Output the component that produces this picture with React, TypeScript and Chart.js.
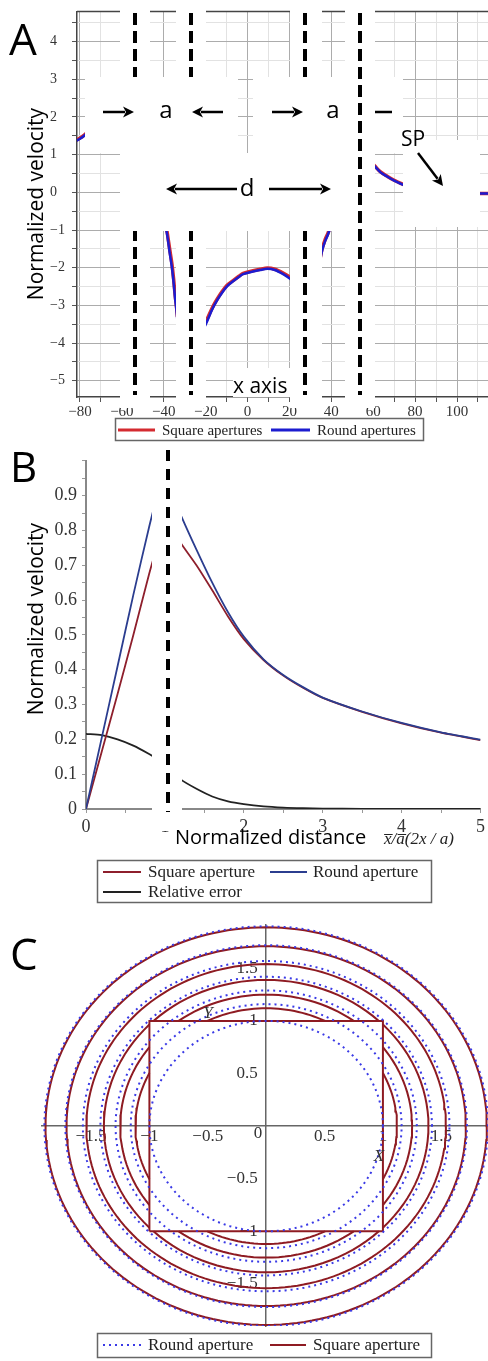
import React, { useEffect, useRef } from "react";
import { Chart, registerables } from "chart.js";
Chart.register(...registerables);

const SANS = '"Open Sans", "Liberation Sans", sans-serif';
const SERIF = '"Liberation Serif", "DejaVu Serif", serif';

// ---------------- Panel A data ----------------
const aPosition = [-82, -80, -78, -76, -60, -45, -43, -41, -39.5, -38.4, -37.2, -36.1, -35.3, -34.6, -34, -33.5, -27, -21, -19.6, -17, -14.7, -12, -9.9, -6.9, -4, -2.1, 2.6, 6, 9.5, 13, 17, 20.3, 21.5, 28, 34.5, 35.6, 37, 38.4, 40, 42, 50, 58, 60.9, 63.5, 66.6, 70, 74.3, 77, 90, 108, 111, 114, 116];
const aSquareVelocity = [1.38, 1.44, 1.52, 1.62, null, 1.0, 0.45, -0.2, -0.7, -1.05, -1.5, -1.9, -2.3, -2.72, -3.0, -3.3, null, -3.55, -3.4, -3.08, -2.85, -2.62, -2.47, -2.34, -2.22, -2.15, -2.08, -2.04, -2.01, -2.04, -2.14, -2.25, -2.31, null, -1.8, -1.5, -1.26, -1.08, -0.82, -0.38, null, 0.86, 0.69, 0.54, 0.43, 0.32, 0.21, 0.15, null, -0.03, -0.03, -0.03, -0.03];
const aRoundVelocity = [1.36, 1.42, 1.5, 1.6, null, 1.0, 0.4, -0.3, -0.8, -1.12, -1.6, -2.0, -2.4, -2.82, -3.1, -3.4, null, -3.62, -3.46, -3.12, -2.88, -2.65, -2.5, -2.36, -2.24, -2.17, -2.1, -2.06, -2.03, -2.06, -2.17, -2.29, -2.35, null, -1.85, -1.55, -1.3, -1.12, -0.85, -0.4, null, 0.85, 0.68, 0.53, 0.42, 0.31, 0.2, 0.14, null, -0.03, -0.03, -0.03, -0.03];
const aLegend = ["Square apertures", "Round apertures"];

// ---------------- Panel B data ----------------
const bDistance = [0, 0.2, 0.4, 0.6, 0.8, 0.9, 1.0, 1.1, 1.2, 1.4, 1.6, 1.8, 2.0, 2.25, 2.5, 2.75, 3.0, 3.5, 4.0, 4.5, 5.0];
const bRound = [0, 0.205, 0.41, 0.615, 0.81, 0.9, null, 0.9, 0.845, 0.745, 0.65, 0.565, 0.495, 0.43, 0.385, 0.35, 0.32, 0.28, 0.247, 0.22, 0.199];
const bSquare = [0, 0.165, 0.33, 0.5, 0.675, 0.755, null, 0.8, 0.764, 0.7, 0.628, 0.553, 0.488, 0.428, 0.383, 0.348, 0.319, 0.279, 0.246, 0.219, 0.198];
const bError = [0.216, 0.212, 0.2, 0.182, 0.158, 0.144, null, 0.11, 0.085, 0.058, 0.036, 0.022, 0.014, 0.0075, 0.004, 0.0022, 0.0013, 0.0005, 0.0002, 0.0001, 0];
const bLegend = ["Square aperture", "Round aperture", "Relative error"];

// ---------------- Panel C data ----------------
const cRoundRadii = [1.0, 1.16, 1.29, 1.42, 1.57, 1.72, 1.9];
const cSquareRadii = [1.12, 1.25, 1.39, 1.54, 1.71, 1.89];
const cApertureHalfSide = [1];
const cLegend = ["Round aperture", "Square aperture"];

const RED_A = "#d42a30";
const BLUE_A = "#1c1cd0";
const RED_B = "#8e1f2c";
const BLUE_B = "#2b3d8f";
const BLACK_B = "#222222";
const RED_C = "#8e1b22";
const BLUE_C = "#3a3ae6";

const minus = (v: number) => {
  const r = Math.round(v * 100) / 100;
  return r < 0 ? "\u2212" + String(Math.abs(r)) : String(r);
};
const pts = (xs: number[], ys: (number | null)[]) => xs.map((x, i) => ({ x, y: ys[i] }));

function circlePts(r: number) {
  const out: { x: number; y: number | null }[] = [];
  for (let d = 0; d <= 360; d += 2) {
    const t = (d * Math.PI) / 180;
    out.push({ x: r * Math.cos(t), y: r * Math.sin(t) });
  }
  return out;
}
function arcsOutsideSquare(r: number, half: number) {
  if (r >= half * Math.SQRT2) return circlePts(r);
  const a0 = Math.acos(half / r);
  const out: { x: number; y: number | null }[] = [];
  [0, 90, 180, 270].forEach((c) => {
    const cr = (c * Math.PI) / 180;
    const n = 30;
    for (let i = 0; i <= n; i++) {
      const t = cr - a0 + (2 * a0 * i) / n;
      out.push({ x: r * Math.cos(t), y: r * Math.sin(t) });
    }
    out.push({ x: 0, y: null });
  });
  return out;
}

function arrow(ctx: CanvasRenderingContext2D, x1: number, y1: number, x2: number, y2: number) {
  const head = 11;
  const ang = Math.atan2(y2 - y1, x2 - x1);
  const bx = x2 - head * Math.cos(ang);
  const by = y2 - head * Math.sin(ang);
  ctx.save();
  ctx.strokeStyle = "#000";
  ctx.fillStyle = "#000";
  ctx.lineWidth = 2.5;
  ctx.beginPath();
  ctx.moveTo(x1, y1);
  ctx.lineTo(bx + 2 * Math.cos(ang), by + 2 * Math.sin(ang));
  ctx.stroke();
  ctx.beginPath();
  ctx.moveTo(x2, y2);
  ctx.lineTo(bx + 5.5 * Math.sin(ang), by - 5.5 * Math.cos(ang));
  ctx.lineTo(bx + 3 * Math.cos(ang), by + 3 * Math.sin(ang));
  ctx.lineTo(bx - 5.5 * Math.sin(ang), by + 5.5 * Math.cos(ang));
  ctx.closePath();
  ctx.fill();
  ctx.restore();
}
function vDash(ctx: CanvasRenderingContext2D, x: number, y1: number, y2: number, dash: number[], w: number) {
  ctx.save();
  ctx.setLineDash(dash);
  ctx.lineWidth = w;
  ctx.strokeStyle = "#000";
  ctx.beginPath();
  ctx.moveTo(x, y1);
  ctx.lineTo(x, y2);
  ctx.stroke();
  ctx.restore();
}
function vTitle(ctx: CanvasRenderingContext2D, text: string, x: number, cy: number, size: number) {
  ctx.save();
  ctx.translate(x, cy);
  ctx.rotate(-Math.PI / 2);
  ctx.font = `${size}px ${SANS}`;
  ctx.fillStyle = "#000";
  ctx.textAlign = "center";
  ctx.textBaseline = "alphabetic";
  ctx.fillText(text, 0, 0);
  ctx.restore();
}
function legendBox(ctx: CanvasRenderingContext2D, x: number, y: number, w: number, h: number) {
  ctx.save();
  ctx.fillStyle = "#fff";
  ctx.fillRect(x, y, w, h);
  ctx.strokeStyle = "#666";
  ctx.lineWidth = 1.5;
  ctx.strokeRect(x + 0.5, y + 0.5, w, h);
  ctx.restore();
}
function legendItem(ctx: CanvasRenderingContext2D, x1: number, x2: number, y: number, color: string, width: number, dash: number[], label: string, tx: number, size: number) {
  ctx.save();
  ctx.strokeStyle = color;
  ctx.lineWidth = width;
  ctx.setLineDash(dash);
  ctx.beginPath();
  ctx.moveTo(x1, y);
  ctx.lineTo(x2, y);
  ctx.stroke();
  ctx.setLineDash([]);
  ctx.font = `${size}px ${SERIF}`;
  ctx.fillStyle = "#222";
  ctx.textAlign = "left";
  ctx.textBaseline = "middle";
  ctx.fillText(label, tx, y + 1);
  ctx.restore();
}

const overlayA = {
  id: "overlayA",
  afterDraw(chart: any) {
    const ctx: CanvasRenderingContext2D = chart.ctx;
    const ca = chart.chartArea;
    ctx.save();
    // top frame line
    ctx.strokeStyle = "#444";
    ctx.lineWidth = 1.5;
    ctx.beginPath();
    ctx.moveTo(ca.left, ca.top);
    ctx.lineTo(ca.right, ca.top);
    ctx.stroke();
    ctx.fillStyle = "#fff";
    // vertical white strips
    [[120, 30], [176, 30], [290, 32], [345, 30]].forEach(([x, w]) => ctx.fillRect(x, 0, w, 408));
    vDash(ctx, 135, 13, 395, [12, 6], 4);
    vDash(ctx, 191, 13, 395, [12, 6], 4);
    vDash(ctx, 305, 13, 395, [12, 6], 4);
    ctx.fillStyle = "#fff";
    ctx.fillRect(85, 77, 153, 76);
    ctx.fillRect(253, 77, 150, 76);
    ctx.fillRect(120, 153, 255, 78);
    ctx.fillRect(403, 140, 77, 87);
    ctx.fillRect(233, 368, 57, 29);
    vDash(ctx, 360, 13, 395, [12, 6], 4);
    // arrows
    arrow(ctx, 103, 112, 134, 112);
    arrow(ctx, 223, 112, 192, 112);
    arrow(ctx, 272, 112, 303, 112);
    ctx.strokeStyle = "#000";
    ctx.lineWidth = 2.5;
    ctx.beginPath();
    ctx.moveTo(375, 112);
    ctx.lineTo(392, 112);
    ctx.stroke();
    arrow(ctx, 237, 189, 166, 189);
    arrow(ctx, 269, 189, 331, 189);
    arrow(ctx, 418, 153, 443, 186);
    ctx.fillStyle = "#000";
    ctx.textBaseline = "alphabetic";
    ctx.textAlign = "center";
    ctx.font = `24px ${SANS}`;
    ctx.fillText("a", 166, 118);
    ctx.fillText("a", 333, 118);
    ctx.fillText("d", 247, 196);
    ctx.textAlign = "left";
    ctx.font = `21px ${SANS}`;
    ctx.fillText("SP", 401, 146);
    ctx.fillText("x axis", 233, 393);
    ctx.font = `44px ${SANS}`;
    ctx.fillText("A", 9, 55);
    vTitle(ctx, "Normalized velocity", 43, 204, 21);
    // legend
    legendBox(ctx, 115, 418, 308, 22);
    legendItem(ctx, 118, 155, 430, RED_A, 3, [], aLegend[0], 162, 15);
    legendItem(ctx, 271, 310, 430, BLUE_A, 3, [], aLegend[1], 317, 15);
    ctx.restore();
  },
};

const overlayB = {
  id: "overlayB",
  afterDraw(chart: any) {
    const ctx: CanvasRenderingContext2D = chart.ctx;
    ctx.save();
    ctx.fillStyle = "#fff";
    ctx.fillRect(152, 0, 30, 386);
    vDash(ctx, 168, 5, 367, [11, 8], 4);
    ctx.fillStyle = "#000";
    ctx.textAlign = "left";
    ctx.textBaseline = "alphabetic";
    ctx.font = `42px ${SANS}`;
    ctx.fillText("B", 10, 37);
    vTitle(ctx, "Normalized velocity", 43, 174, 21);
    ctx.fillStyle = "#000";
    ctx.font = `20px ${SANS}`;
    ctx.textAlign = "left";
    ctx.fillText("Normalized distance", 175, 399);
    ctx.font = `italic 17px ${SERIF}`;
    ctx.fillStyle = "#222";
    ctx.fillText("x\u0305/a\u0305(2x / a)", 384, 399);
    legendBox(ctx, 97, 415, 334, 42);
    legendItem(ctx, 103, 141, 427, RED_B, 2, [], bLegend[0], 148, 17);
    legendItem(ctx, 270, 307, 427, BLUE_B, 2, [], bLegend[1], 313, 17);
    legendItem(ctx, 103, 141, 447, BLACK_B, 2, [], bLegend[2], 148, 17);
    ctx.restore();
  },
};

const overlayC = {
  id: "overlayC",
  afterDraw(chart: any) {
    const ctx: CanvasRenderingContext2D = chart.ctx;
    ctx.save();
    ctx.fillStyle = "#000";
    ctx.textAlign = "left";
    ctx.textBaseline = "alphabetic";
    ctx.font = `44px ${SANS}`;
    ctx.fillText("C", 10, 65);
    ctx.fillStyle = "#333";
    ctx.font = `17px ${SERIF}`;
    ctx.textAlign = "center";
    ctx.textBaseline = "middle";
    ctx.fillText("0", 258, 229);
    ctx.font = `italic 17px ${SERIF}`;
    ctx.fillText("Y", 208, 109);
    ctx.fillText("X", 379, 252);
    legendBox(ctx, 97, 428, 334, 24);
    legendItem(ctx, 103, 141, 440, BLUE_C, 2, [2, 4], cLegend[0], 148, 17);
    legendItem(ctx, 270, 306, 440, RED_C, 2, [], cLegend[1], 313, 17);
    ctx.restore();
  },
};

const base = {
  animation: false as const,
  responsive: false,
  events: [] as any[],
  plugins: { legend: { display: false }, tooltip: { enabled: false } },
};

function configA(): any {
  const major = (c: any, f: (v: number) => boolean) => (c.tick && f(c.tick.value) ? "#acacac" : "#e2e2e2");
  return {
    type: "scatter",
    data: {
      datasets: [
        { data: pts(aPosition, aRoundVelocity), showLine: true, borderColor: BLUE_A, borderWidth: 2.5, pointRadius: 0, tension: 0.3, spanGaps: false },
        { data: pts(aPosition, aSquareVelocity), showLine: true, borderColor: RED_A, borderWidth: 3.5, pointRadius: 0, tension: 0.3, spanGaps: false },
      ],
    },
    options: {
      ...base,
      layout: { padding: { left: 50, top: 5, right: 0, bottom: 0 } },
      scales: {
        x: {
          type: "linear", min: -81.43, max: 114.8,
          afterFit: (s: any) => { s.height = 48; },
          ticks: { stepSize: 10, includeBounds: false, autoSkip: false, maxRotation: 0, padding: 1, color: "#333", font: { family: SERIF, size: 15 },
            callback: (v: number) => (Math.round(v) % 20 === 0 ? minus(v) : "") },
          grid: { color: (c: any) => major(c, (v) => Math.round(v) % 20 === 0), tickLength: 5, tickColor: "#555", lineWidth: 1 },
          border: { color: "#444", width: 1.5 },
        },
        y: {
          type: "linear", min: -5.43, max: 4.8,
          afterFit: (s: any) => { s.width = 27; },
          ticks: { stepSize: 0.5, includeBounds: false, autoSkip: false, crossAlign: "far", color: "#333", font: { family: SERIF, size: 14 },
            callback: (v: number) => (Math.abs(v - Math.round(v)) < 1e-9 ? minus(v) : "") },
          grid: { color: (c: any) => major(c, (v) => Math.abs(v - Math.round(v)) < 1e-9), tickLength: 5, tickColor: "#555", lineWidth: 1 },
          border: { color: "#444", width: 1.5 },
        },
      },
    },
    plugins: [overlayA],
  };
}

function configB(): any {
  const line = (ys: (number | null)[], color: string) => ({ data: pts(bDistance, ys), showLine: true, borderColor: color, borderWidth: 1.8, pointRadius: 0, tension: 0.25, spanGaps: false });
  return {
    type: "scatter",
    data: { datasets: [line(bRound, BLUE_B), line(bSquare, RED_B), line(bError, BLACK_B)] },
    options: {
      ...base,
      layout: { padding: { left: 0, top: 12, right: 2, bottom: 0 } },
      scales: {
        x: {
          type: "linear", min: 0, max: 5,
          afterFit: (s: any) => { s.height = 96; },
          ticks: { stepSize: 0.5, autoSkip: false, maxRotation: 0, padding: 3, color: "#333", font: { family: SERIF, size: 18 },
            callback: (v: number) => (Math.abs(v - Math.round(v)) < 1e-9 ? String(Math.round(v)) : "") },
          grid: { drawOnChartArea: false, tickLength: 4, tickColor: "#999", color: "#999" },
          border: { color: "#888", width: 2 },
        },
        y: {
          type: "linear", min: 0, max: 1,
          afterFit: (s: any) => { s.width = 86; },
          ticks: { stepSize: 0.05, autoSkip: false, padding: 5, color: "#333", font: { family: SERIF, size: 18 },
            callback: (v: number) => { const r = Math.round(v * 100); return r % 10 !== 0 || r === 100 ? "" : r === 0 ? "0" : String(r / 100); } },
          grid: { drawOnChartArea: false, tickLength: 4, tickColor: "#999", color: "#999" },
          border: { color: "#888", width: 2 },
        },
      },
    },
    plugins: [overlayB],
  };
}

function configC(): any {
  const half = cApertureHalfSide[0];
  const datasets: any[] = [];
  cRoundRadii.forEach((r) => datasets.push({ data: circlePts(r), showLine: true, borderColor: BLUE_C, borderWidth: 2, borderDash: [2, 4], pointRadius: 0 }));
  cSquareRadii.forEach((r) => datasets.push({ data: arcsOutsideSquare(r, half), showLine: true, borderColor: RED_C, borderWidth: 2, pointRadius: 0, spanGaps: false }));
  datasets.push({ data: [{ x: -half, y: -half }, { x: half, y: -half }, { x: half, y: half }, { x: -half, y: half }, { x: -half, y: -half }], showLine: true, borderColor: RED_C, borderWidth: 2, pointRadius: 0 });
  const axis = {
    type: "linear",
    grid: { drawOnChartArea: false, drawTicks: false, color: "rgba(0,0,0,0)" },
    border: { color: "#666", width: 1.5 },
  };
  return {
    type: "scatter",
    data: { datasets },
    options: {
      ...base,
      layout: { padding: { left: 42, top: 8, right: 0, bottom: 35 } },
      scales: {
        x: { ...axis, min: -1.92, max: 1.9, position: { y: 0 },
          afterFit: (s: any) => { s.height = 0; },
          ticks: { stepSize: 0.5, includeBounds: false, autoSkip: false, maxRotation: 0, padding: 0, color: "#333", font: { family: SERIF, size: 17 },
            callback: (v: number) => (Math.abs(v) < 1e-9 ? "" : minus(v)) } },
        y: { ...axis, min: -1.9, max: 1.91, position: { x: 0 },
          afterFit: (s: any) => { s.width = 0; },
          ticks: { stepSize: 0.5, includeBounds: false, autoSkip: false, padding: 10, color: "#333", font: { family: SERIF, size: 17 },
            callback: (v: number) => (Math.abs(v) < 1e-9 ? "" : minus(v) + "\u2002") } },
      },
    },
    plugins: [overlayC],
  };
}

export default function App() {
  const refA = useRef<HTMLCanvasElement>(null);
  const refB = useRef<HTMLCanvasElement>(null);
  const refC = useRef<HTMLCanvasElement>(null);
  useEffect(() => {
    const charts = [
      new Chart(refA.current as HTMLCanvasElement, configA()),
      new Chart(refB.current as HTMLCanvasElement, configB()),
      new Chart(refC.current as HTMLCanvasElement, configC()),
    ];
    return () => charts.forEach((c) => c.destroy());
  }, []);
  return (
    <div style={{ position: "absolute", left: 0, top: 0, width: 488, height: 1361, background: "#fff", overflow: "hidden" }}>
      <canvas ref={refA} width={488} height={445} style={{ position: "absolute", left: 0, top: 0, width: 488, height: 445 }} />
      <canvas ref={refB} width={488} height={460} style={{ position: "absolute", left: 0, top: 445, width: 488, height: 460 }} />
      <canvas ref={refC} width={488} height={456} style={{ position: "absolute", left: 0, top: 905, width: 488, height: 456 }} />
    </div>
  );
}
